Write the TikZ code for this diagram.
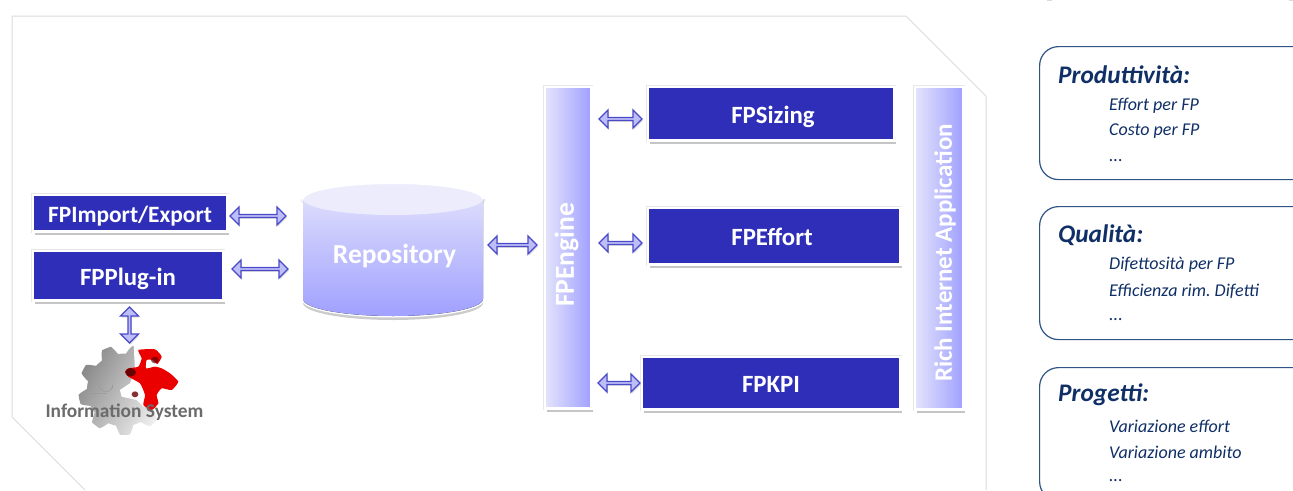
\documentclass[tikz,border=0pt]{standalone}
\usepackage{fontspec}
\setmainfont{Carlito}
\usetikzlibrary{shapes.arrows,shadows,calc,fadings}
\definecolor{boxblue}{HTML}{2E2EB8}
\definecolor{navy}{HTML}{0F2F66}
\definecolor{cardline}{HTML}{2F5485}
\definecolor{arrowline}{HTML}{4A4AC8}
\definecolor{arrowfill}{HTML}{BDBDF8}
\definecolor{barlight}{HTML}{E4E4FC}
\definecolor{bardark}{HTML}{A0A0FF}
\tikzset{
  softshadow/.style={drop shadow={shadow xshift=2pt,shadow yshift=-4pt,fill=black!50,opacity=.45}},
  halo/.style={preaction={draw=black!9,line width=4pt}},
  bluebox/.style={rectangle,fill=boxblue,draw=white,line width=2.5pt,softshadow,halo,outer sep=0pt,
    text=white,font=\bfseries\fontsize{24.8}{25}\selectfont,inner sep=0pt,anchor=north west,text depth=0pt},
  sidebar/.style={rectangle,left color=barlight,right color=bardark,draw=white,line width=2.5pt,softshadow,halo,outer sep=0pt,inner sep=0pt,anchor=north west},
  bartext/.style={rotate=90,text=white,font=\bfseries\fontsize{25}{25}\selectfont},
  blockarrow/.style={double arrow,draw=arrowline,fill=arrowfill,line width=1.3pt,inner sep=0pt,outer sep=0pt,
    minimum width=18pt,double arrow head extend=3.5pt,double arrow tip angle=90,
    drop shadow={shadow xshift=1pt,shadow yshift=-1.5pt,fill=black!40,opacity=.3}},
  card/.style={rectangle,rounded corners=19pt,draw=cardline,line width=1.2pt,fill=white,anchor=north west,inner sep=0pt},
  cardtitle/.style={text=navy,anchor=west,font=\bfseries\itshape\fontsize{25.3}{25}\selectfont,inner sep=0pt},
  carditem/.style={text=navy,anchor=west,font=\itshape\fontsize{18}{18}\selectfont\frenchspacing,inner sep=0pt},
}
\newcommand{\dblarrow}[2]{\path let \p1=(#1),\p2=(#2),\n1={veclen(\x2-\x1,\y2-\y1)} in
  (\p1)--(\p2) node[midway,sloped,blockarrow,minimum height=\n1]{};}
\newcommand{\lowered}[1]{\raisebox{-2pt}{#1}}
\begin{document}
\begin{tikzpicture}[x=1pt,y=-1pt]
\useasboundingbox (0,0) rectangle (1293,490);
\fill[white] (0,0) rectangle (1293,490);
% frame
\draw[black!14,line width=1pt] (85,490)--(12,417)--(12,16)--(906,16)--(986,96)--(986,490);
\draw[black!14,line width=2pt] (1047,-.5)--(1052,-.5) (1289,-.5)--(1293,-.5);
% repository
\path[fill=white,draw=white,line width=3pt,drop shadow={shadow xshift=0pt,shadow yshift=-4pt,fill=black!50,opacity=.4}] (303,199) arc[start angle=180,end angle=0,x radius=90,y radius=16] -- (483,299) arc[start angle=0,end angle=180,x radius=90,y radius=17] -- cycle;
\draw[black!9,line width=1pt] (301,199) arc[start angle=180,end angle=0,x radius=92,y radius=18];
\fill[top color=barlight,bottom color=bardark] (303,199) arc[start angle=180,end angle=360,x radius=90,y radius=16] -- (483,299) arc[start angle=0,end angle=180,x radius=90,y radius=17] -- cycle;
\fill[barlight!70!white] (393,199) ellipse[x radius=90,y radius=16];
\draw[white,line width=2pt] (303,199) arc[start angle=180,end angle=360,x radius=90,y radius=16];
\node[text=white,font=\bfseries\fontsize{27.5}{27}\selectfont,inner sep=0pt] (repo) at (394.5,256) {Repository};
\coordinate (repoL) at (303,250);
\coordinate (repoR) at (483,250);
% boxes
\node[bluebox,font=\bfseries\fontsize{23.4}{24}\selectfont,minimum width=194.5pt,minimum height=36.5pt] (imp) at (32.75,194.75) {\lowered{FPImport/Export}};
\node[bluebox,minimum width=190.5pt,minimum height=49.5pt] (plug) at (32.75,250.75) {\lowered{FPPlug-in}};
\node[bluebox,minimum width=246.5pt,minimum height=53.5pt] (siz) at (647.75,86.75) {\hspace*{4pt}\lowered{FPSizing}};
\node[bluebox,minimum width=252.5pt,minimum height=56.5pt] (eff) at (647.75,207.75) {\hspace*{-4pt}\lowered{FPEffort}};
\node[bluebox,minimum width=258.5pt,minimum height=52.5pt] (kpi) at (641.75,356.75) {\lowered{FPKPI}};
\node[sidebar,minimum width=46.5pt,minimum height=321.5pt] (eng) at (544.75,86.75) {};
\node[bartext,font=\bfseries\fontsize{27.5}{27}\selectfont] (engt) at (566.5,255) {FPEngine};
\node[sidebar,minimum width=48.5pt,minimum height=322.5pt] (ria) at (914.75,86.75) {};
\node[bartext] (riat) at (945,253) {Rich Internet Application};
% gear
\coordinate (gearc) at (125,390);
\begin{scope}[shift={(40,340)},x=.3333pt,y=-.3333pt]
  \path[left color=black!46,right color=black!5,shading angle=60]
    plot[domain=0:358,samples=180,smooth cycle] ({250+(122+13*max(-1,min(1,1.8*sin(9*\x+20))))*cos(\x)},{150+(122+13*max(-1,min(1,1.8*sin(9*\x+20))))*sin(\x)});
  \fill[white] (280,-5)--(450,-5)--(450,190)--(360,190)--(310,200)--(290,180)--(245,170)--(240,150)--(270,130)--(285,90)--cycle;
  \draw[black!40,line width=.5pt] (178,135) arc[start angle=180,end angle=0,radius=20] -- (218,145) (150,160)--(200,160);
  \fill[red!92!black] plot[smooth cycle,tension=.3] coordinates {(295,30)(345,28)(365,50)(352,72)(338,60)(320,60)(318,85)(345,80)(365,85)(390,100)(415,125)(395,150)(365,145)(350,165)(355,190)(335,210)(310,195)(315,165)(300,130)(265,110)(255,95)(265,85)(295,80)(305,55)};
  \fill[black!70!red,opacity=.8] (272,97) ellipse[x radius=16,y radius=13];
  \fill[black!60!red,opacity=.7] (345,60) ellipse[x radius=12,y radius=10];
  \fill[black!60!red,opacity=.8] (285,163) ellipse[x radius=10,y radius=9];
\end{scope}
\node[text=black!58,font=\bfseries\fontsize{19.4}{19}\selectfont,inner sep=0pt] (info) at (124.5,412) {Information System};
% arrows
\dblarrow{$(imp.east)+(2.75,3)$}{$(repoL)+(-17,-34)$}
\dblarrow{$(plug.east)+(8.75,-6.5)$}{$(repoL)+(-15,19)$}
\dblarrow{$(plug.south)+(1.5,6.75)$}{$(gearc)+(4.5,-47)$}
\dblarrow{$(repoR)+(5,-5)$}{$(eng.west)+(-7.75,-2.5)$}
\dblarrow{$(eng.east)+(7.75,-128.5)$}{$(siz.west)+(-5.75,5.5)$}
\dblarrow{$(eng.east)+(7.75,-4.5)$}{$(eff.west)+(-5.75,7)$}
\dblarrow{$(eng.east)+(6.75,135.5)$}{$(kpi.west)+(-1.75,0)$}
% cards
\node[card,minimum width=290pt,minimum height=133pt] (c1) at (1039,46) {};
\node[card,minimum width=290pt,minimum height=133pt] (c2) at (1039,206) {};
\node[card,minimum width=290pt,minimum height=133pt] (c3) at (1039,367) {};
\node[cardtitle] (t1) at (1058,75) {Produttività:};
\node[carditem] (a1) at (1109,106) {Effort per FP};
\node[carditem] (a2) at (1109,131) {Costo per FP};
\node[carditem] (a3) at (1109,161) {...};
\node[cardtitle] (t2) at (1058,235) {Qualità:};
\node[carditem] (b1) at (1109,265) {Difettosità per FP};
\node[carditem] (b2) at (1109,291) {Efficienza rim. Difetti};
\node[carditem] (b3) at (1109,320) {...};
\node[cardtitle] (t3) at (1058,395) {Progetti:};
\node[carditem] (d1) at (1109,426) {Variazione effort};
\node[carditem] (d2) at (1109,452) {Variazione ambito};
\node[carditem] (d3) at (1109,481) {...};
\end{tikzpicture}
\end{document}
